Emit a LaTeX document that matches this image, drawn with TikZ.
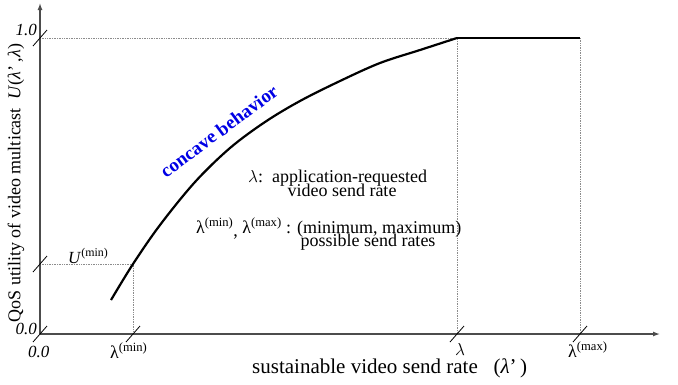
\documentclass[tikz,border=0pt]{standalone}
\usepackage{fontspec}
\setmainfont{Liberation Serif}
\usetikzlibrary{arrows.meta}
\begin{document}
\begin{tikzpicture}[x=1pt,y=-1pt,
  axis/.style={draw=black!70, line width=1.3pt},
  guide/.style={draw=black!45, densely dotted, line width=0.7pt},
  tickmark/.style={draw=black, line width=0.8pt},
  curveline/.style={draw=black, line width=2.2pt},
  lab/.style={inner sep=0pt, anchor=base west},
  ticklab/.style={lab, font=\fontsize{17}{17}\selectfont\itshape},
  greeklab/.style={lab, font=\fontsize{18}{18}\selectfont},
  midtext/.style={inner sep=0pt, font=\fontsize{18}{18}\selectfont}]
\useasboundingbox (0,0) rectangle (678,384);
% key points
\coordinate (O) at (40,334);
\coordinate (ytop) at (40,3);
\coordinate (xend) at (660,334);
\coordinate (Y1) at (40,38);
\coordinate (Ymin) at (40,264);
\coordinate (Xmin) at (133,334);
\coordinate (Xlam) at (457,334);
\coordinate (Xmax) at (580,334);
\coordinate (Pmin) at (133,264);
\coordinate (Plam) at (457,38);
\coordinate (Pmax) at (580,38);
\coordinate (Cstart) at (111,300);
% guides
\draw[guide] (Y1) -- (Plam) -- (Xlam);
\draw[guide] (Pmax) -- (Xmax);
\draw[guide] (Ymin) -- (Pmin) -- (Xmin);
% axes
\draw[axis,-{Latex[length=7pt,width=5pt]}] (O) -- (ytop);
\draw[axis,-{Latex[length=7pt,width=5pt]}] (O) -- (xend);
% ticks
\foreach \c in {Y1,Ymin,O,Xmin,Xlam,Xmax}
  \draw[tickmark] ([shift={(-7,8)}]\c) -- ([shift={(7,-8)}]\c);
% utility curve
\draw[curveline] plot[smooth, tension=0.55] coordinates {(Cstart) (Pmin) (160,225) (195,182) (230,148) (265,122) (300,101) (340,81) (380,63) (420,50) (Plam)};
\draw[curveline] (Plam) -- (Pmax);
% axis labels
\node[ticklab, anchor=base east] (l10) at (37,35) {1.0};
\node[ticklab, anchor=base east] (l00y) at (37,334) {0.0};
\node[ticklab] (l00x) at (28,357) {0.0};
\node[greeklab] (lmin) at (110,358) {λ\textsuperscript{(min)}};
\node[greeklab] (llam) at (455,355) {$\lambda$};
\node[greeklab] (lmax) at (568,357) {λ\textsuperscript{(max)}};
\node[lab, font=\fontsize{17}{17}\selectfont] (lumin) at (68,263) {\textit{U}\textsuperscript{(min)}};
\node[lab, font=\fontsize{21}{21}\selectfont] (xlabel) at (252,373) {sustainable video send rate\ \ \ (\textit{λ}'\,)};
\node[inner sep=0pt, rotate=90, font=\fontsize{18}{18}\selectfont] (ylabel) at (16,183) {QoS utility of video multicast\ \ \textit{U}(\textit{λ}'\,,\textit{λ})};
% annotations
\node[inner sep=0pt, rotate=36.5, text=blue!90!black, font=\fontsize{19}{19}\selectfont\bfseries] (concave) at (219,131) {concave behavior};
\node[midtext, anchor=base west] (t1) at (248,182) {$\lambda$:\ \ application-requested};
\node[midtext, anchor=base] (t2) at (342,196) {video send rate};
\node[midtext, anchor=base west] (t3) at (196,233) {λ\textsuperscript{(min)}\raisebox{-3pt}{,} λ\textsuperscript{(max)} : (minimum, maximum)};
\node[midtext, anchor=base] (t4) at (368,246) {possible send rates};
\end{tikzpicture}
\end{document}
